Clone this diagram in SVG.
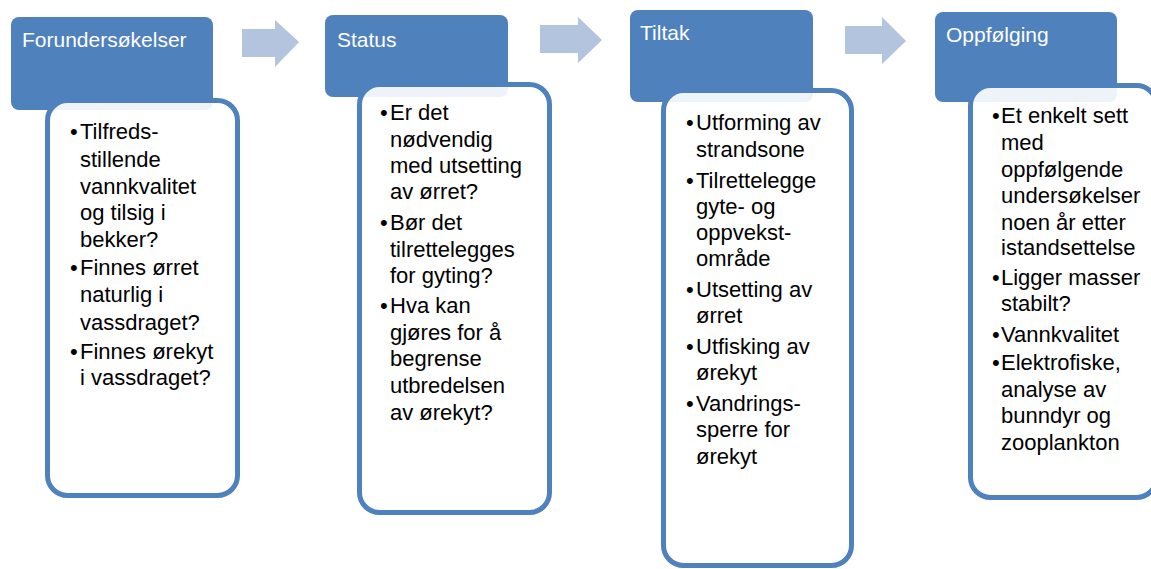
<svg xmlns="http://www.w3.org/2000/svg" width="1151" height="569" viewBox="0 0 1151 569">
  <style>
    .head { fill: #4F81BD; }
    .card { fill: #FFFFFF; fill-opacity: 0.9; stroke: #4F81BD; stroke-width: 5; }
    .arrow { fill: #B3C4DF; }
    .title { font-family: "Liberation Sans", Arial, sans-serif; font-size: 21px; fill: #FFFFFF; }
    .body { font-family: "Liberation Sans", Arial, sans-serif; font-size: 22px; fill: #000000; }
  </style>

  <rect width="1151" height="569" fill="#FFFFFF"/>

  <!-- process arrows between the stages -->
  <g id="connectors">
    <polygon class="arrow" points="242,29 275,29 275,20 299,42 275,67 275,57 242,57"/>
    <polygon class="arrow" points="540,25 578,25 578,17 602,40 578,63 578,53 540,53"/>
    <polygon class="arrow" points="845,26 882,26 882,17 906,41 882,64 882,54 845,54"/>
  </g>

  <!-- stage 1 -->
  <g id="forundersokelser">
    <rect class="head" x="11" y="17" width="202" height="93" rx="8"/>
    <text class="title" x="22" y="47">Forundersøkelser</text>
    <rect class="card" x="47.5" y="100.5" width="190" height="395" rx="20"/>
    <text class="body">
      <tspan x="70" y="139">•</tspan><tspan x="80">Tilfreds-</tspan>
      <tspan x="80" y="167">stillende</tspan>
      <tspan x="80" y="194">vannkvalitet</tspan>
      <tspan x="80" y="220">og tilsig i</tspan>
      <tspan x="80" y="247">bekker?</tspan>
      <tspan x="70" y="275">•</tspan><tspan x="80">Finnes ørret</tspan>
      <tspan x="80" y="302">naturlig i</tspan>
      <tspan x="80" y="330">vassdraget?</tspan>
      <tspan x="70" y="359">•</tspan><tspan x="80">Finnes ørekyt</tspan>
      <tspan x="80" y="385">i vassdraget?</tspan>
    </text>
  </g>

  <!-- stage 2 -->
  <g id="status">
    <rect class="head" x="325" y="15" width="183" height="82" rx="8"/>
    <text class="title" x="337" y="47">Status</text>
    <rect class="card" x="359.5" y="84.5" width="190" height="428" rx="20"/>
    <text class="body">
      <tspan x="380" y="120">•</tspan><tspan x="390">Er det</tspan>
      <tspan x="390" y="147">nødvendig</tspan>
      <tspan x="390" y="173">med utsetting</tspan>
      <tspan x="390" y="199">av ørret?</tspan>
      <tspan x="380" y="230">•</tspan><tspan x="390">Bør det</tspan>
      <tspan x="390" y="257">tilrettelegges</tspan>
      <tspan x="390" y="283">for gyting?</tspan>
      <tspan x="380" y="313">•</tspan><tspan x="390">Hva kan</tspan>
      <tspan x="390" y="340">gjøres for å</tspan>
      <tspan x="390" y="366">begrense</tspan>
      <tspan x="390" y="393">utbredelsen</tspan>
      <tspan x="390" y="420">av ørekyt?</tspan>
    </text>
  </g>

  <!-- stage 3 -->
  <g id="tiltak">
    <rect class="head" x="630" y="10" width="183" height="92" rx="8"/>
    <text class="title" x="640" y="40">Tiltak</text>
    <rect class="card" x="663.5" y="90.5" width="188" height="475" rx="20"/>
    <text class="body">
      <tspan x="686" y="130">•</tspan><tspan x="696">Utforming av</tspan>
      <tspan x="696" y="157">strandsone</tspan>
      <tspan x="686" y="188">•</tspan><tspan x="696">Tilrettelegge</tspan>
      <tspan x="696" y="214">gyte- og</tspan>
      <tspan x="696" y="240">oppvekst-</tspan>
      <tspan x="696" y="266">område</tspan>
      <tspan x="686" y="297">•</tspan><tspan x="696">Utsetting av</tspan>
      <tspan x="696" y="323">ørret</tspan>
      <tspan x="686" y="354">•</tspan><tspan x="696">Utfisking av</tspan>
      <tspan x="696" y="380">ørekyt</tspan>
      <tspan x="686" y="411">•</tspan><tspan x="696">Vandrings-</tspan>
      <tspan x="696" y="437">sperre for</tspan>
      <tspan x="696" y="464">ørekyt</tspan>
    </text>
  </g>

  <!-- stage 4 -->
  <g id="oppfolging">
    <rect class="head" x="935" y="12" width="182" height="90" rx="8"/>
    <text class="title" x="946" y="42">Oppfølging</text>
    <rect class="card" x="970.5" y="85.5" width="186" height="412" rx="20"/>
    <text class="body">
      <tspan x="992" y="123">•</tspan><tspan x="1001">Et enkelt sett</tspan>
      <tspan x="1001" y="150">med</tspan>
      <tspan x="1001" y="177">oppfølgende</tspan>
      <tspan x="1001" y="203">undersøkelser</tspan>
      <tspan x="1001" y="230">noen år etter</tspan>
      <tspan x="1001" y="255">istandsettelse</tspan>
      <tspan x="992" y="285">•</tspan><tspan x="1001">Ligger masser</tspan>
      <tspan x="1001" y="311">stabilt?</tspan>
      <tspan x="992" y="342">•</tspan><tspan x="1001">Vannkvalitet</tspan>
      <tspan x="992" y="370">•</tspan><tspan x="1001">Elektrofiske,</tspan>
      <tspan x="1001" y="397">analyse av</tspan>
      <tspan x="1001" y="423">bunndyr og</tspan>
      <tspan x="1001" y="450">zooplankton</tspan>
    </text>
  </g>
</svg>
